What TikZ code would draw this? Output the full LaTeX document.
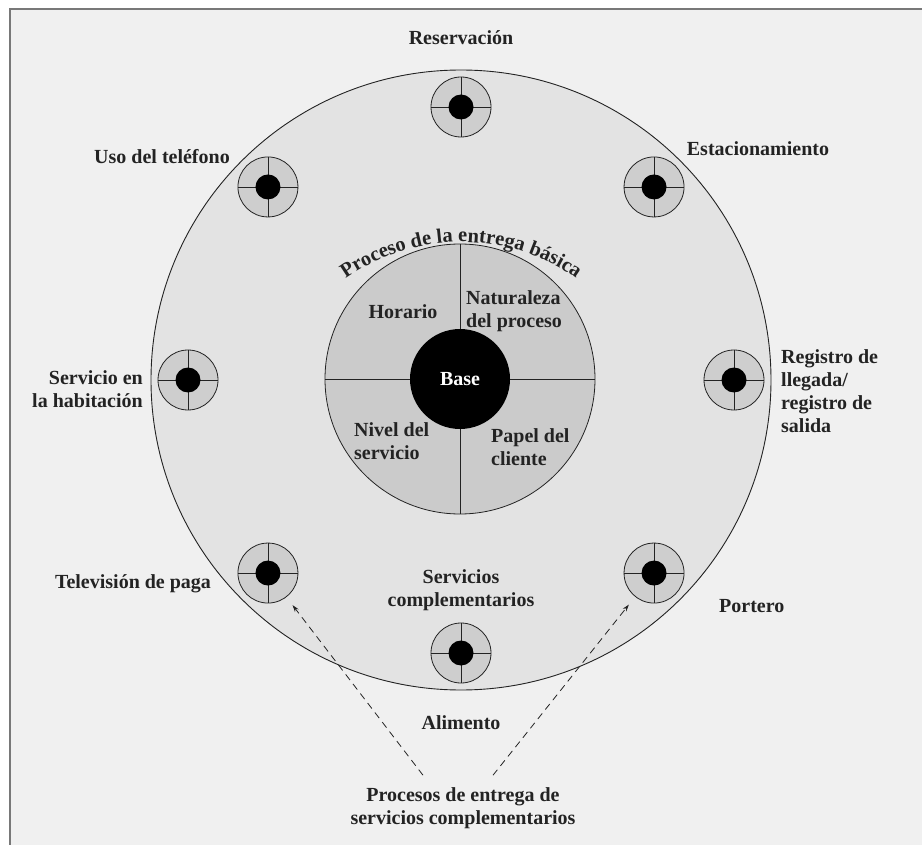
\documentclass[tikz,border=0pt]{standalone}
\usepackage{fontspec}
\setmainfont{Liberation Serif}
\usetikzlibrary{calc,arrows.meta,decorations.text}
\definecolor{bgc}{RGB}{240,240,240}
\definecolor{bigc}{RGB}{227,227,227}
\definecolor{innc}{RGB}{203,203,203}
\definecolor{ringc}{RGB}{206,206,206}
\definecolor{ink}{RGB}{35,35,35}
\definecolor{framec}{RGB}{120,120,120}
\begin{document}
\begin{tikzpicture}[x=1pt,y=1pt,
  lbl/.style={font=\bfseries\fontsize{20}{23}\selectfont, text=ink, inner sep=0pt},
  ring/.style={circle, draw=ink, line width=0.8pt, fill=ringc, minimum size=60pt, inner sep=0pt},
  bigcirc/.style={circle, draw=ink, line width=0.9pt, fill=bigc, minimum size=620pt, inner sep=0pt},
  corecirc/.style={circle, draw=ink, line width=0.8pt, fill=innc, minimum size=270pt, inner sep=0pt},
  basecirc/.style={circle, fill=black, minimum size=100pt, inner sep=0pt},
  crossline/.style={draw=ink, line width=0.8pt},
  dasharrow/.style={draw=ink, line width=0.8pt, dash pattern=on 7pt off 5pt, -{Stealth[length=7pt,width=4.5pt]}, shorten >=10pt}
]
\useasboundingbox (0,0) rectangle (922,-845);
\fill[white] (0,0) rectangle (922,-845);
\fill[bgc] (9.5,-9.5) rectangle (922,-845);
\draw[framec, line width=2pt] (9.5,-845) -- (9.5,-9.5) -- (922,-9.5);

\coordinate (C) at (461,-380);
\node[bigcirc] (big) at (C) {};

% small service circles
\foreach \ang/\nm in {90/res,135/tel,45/est,180/hab,0/reg,225/tv,315/por,270/ali}{
  \node[ring] (\nm) at ($(C)+(\ang:273)$) {};
  \draw[crossline] (\nm.north) -- (\nm.south) (\nm.west) -- (\nm.east);
  \fill[black] (\nm) circle (12.5);
}

% core
\node[corecirc] (core) at (460,-379) {};
\draw[crossline] (core.north) -- (core.south) (core.west) -- (core.east);
\node[basecirc, lbl, text=white] (base) at (core) {Base};

% curved title
\path[decorate, decoration={text along path, text align=center,
   text={|\bfseries\fontsize{20.5}{23}\selectfont\color{ink}|Proceso de la entrega básica}}]
   ($(461,-442)+(140:200)$) arc[start angle=140, end angle=40, radius=200];

% core labels
\node[lbl] (hor) at (403,-312) {Horario};
\node[lbl, align=left, anchor=west] (nat) at (466,-311) {Naturaleza\\del proceso};
\node[lbl, align=left, anchor=west] (niv) at (354,-441) {Nivel del\\servicio};
\node[lbl, align=left, anchor=west] (pap) at (491,-447) {Papel del\\cliente};

% outer labels
\node[lbl] (lres) at (461,-38) {Reservación};
\node[lbl] (ltel) at (162,-157) {Uso del teléfono};
\node[lbl] (lest) at (758,-149) {Estacionamiento};
\node[lbl, align=right, anchor=east] (lhab) at (143,-389) {Servicio en\\la habitación};
\node[lbl, align=left, anchor=west] (lreg) at (781,-391) {Registro de\\llegada/\\registro de\\salida};
\node[lbl] (ltv) at (133,-584) {Televisión de paga};
\node[lbl, anchor=west] (lpor) at (719,-606) {Portero};
\node[lbl, align=center] (lsc) at (461,-590) {Servicios\\complementarios};
\node[lbl] (lali) at (461,-723) {Alimento};
\node[lbl, align=center] (lproc) at (463,-808) {Procesos de entrega de\\servicios complementarios};

% dashed arrows
\coordinate (a1) at ($(lproc.north)+(-40,12)$);
\coordinate (a2) at ($(lproc.north)+(30,12)$);
\draw[dasharrow] (a1) -- (tv);
\draw[dasharrow] (a2) -- (por);
\end{tikzpicture}
\end{document}
